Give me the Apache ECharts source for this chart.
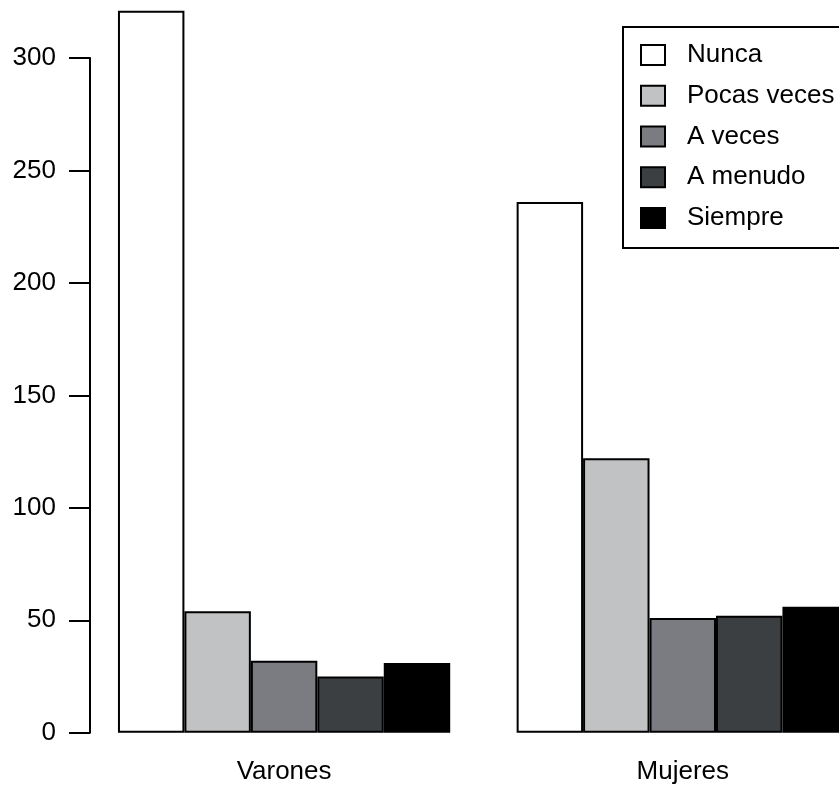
<!DOCTYPE html>
<html>
<head>
<meta charset="utf-8">
<script src="https://cdn.jsdelivr.net/npm/echarts@6/dist/echarts.min.js"></script>
<style>
html,body{margin:0;padding:0;background:#fff;}
#chart{width:839px;height:787px;}
</style>
</head>
<body>
<div id="chart"></div>
<script>
const categories = ['Varones', 'Mujeres'];
const seriesNames = ['Nunca', 'Pocas veces', 'A veces', 'A menudo', 'Siempre'];
const nunca = [321, 236];
const pocasVeces = [54, 122];
const aVeces = [32, 51];
const aMenudo = [25, 52];
const siempre = [31, 56];
const yTicks = [0, 50, 100, 150, 200, 250, 300];

const seriesValues = [nunca, pocasVeces, aVeces, aMenudo, siempre];
const colors = ['#ffffff', '#c1c2c4', '#7b7c81', '#3c3f42', '#000000'];
const FONT = '"Liberation Sans", Arial, Helvetica, sans-serif';

const chart = echarts.init(document.getElementById('chart'), null, {renderer: 'canvas'});
chart.setOption({
  animation: false,
  backgroundColor: '#ffffff',
  textStyle: {fontFamily: FONT},
  grid: {left: 84.75, right: -43.1, top: 58, bottom: 54.3, containLabel: false, outerBoundsMode: 'none'},
  legend: {
    orient: 'vertical',
    left: 623,
    top: 27,
    data: seriesNames,
    icon: 'rect',
    itemWidth: 24,
    itemHeight: 20,
    itemGap: 14.75,
    padding: [15, 80, 17, 17],
    borderColor: '#000',
    borderWidth: 2,
    itemStyle: {borderColor: '#000', borderWidth: 2},
    textStyle: {fontFamily: FONT, fontSize: 26, color: '#000', lineHeight: 26, padding: [0, 0, 0, 17]}
  },
  xAxis: {
    type: 'category',
    data: categories,
    axisLine: {show: false},
    axisTick: {show: false},
    axisLabel: {fontFamily: FONT, fontSize: 26, color: '#000', margin: 26}
  },
  yAxis: {
    type: 'value',
    min: yTicks[0],
    max: yTicks[yTicks.length - 1],
    interval: 50,
    offset: -5.25,
    axisLine: {show: true, lineStyle: {color: '#000', width: 2}},
    axisTick: {show: true, length: 21, lineStyle: {color: '#000', width: 2}},
    axisLabel: {fontFamily: FONT, fontSize: 26, color: '#000', margin: 34},
    splitLine: {show: false}
  },
  series: seriesNames.map((name, i) => ({
    name: name,
    type: 'bar',
    data: seriesValues[i],
    barWidth: 66.45,
    barGap: '0%',
    clip: false,
    itemStyle: {color: colors[i], borderColor: '#000', borderWidth: 2}
  }))
});
</script>
</body>
</html>
